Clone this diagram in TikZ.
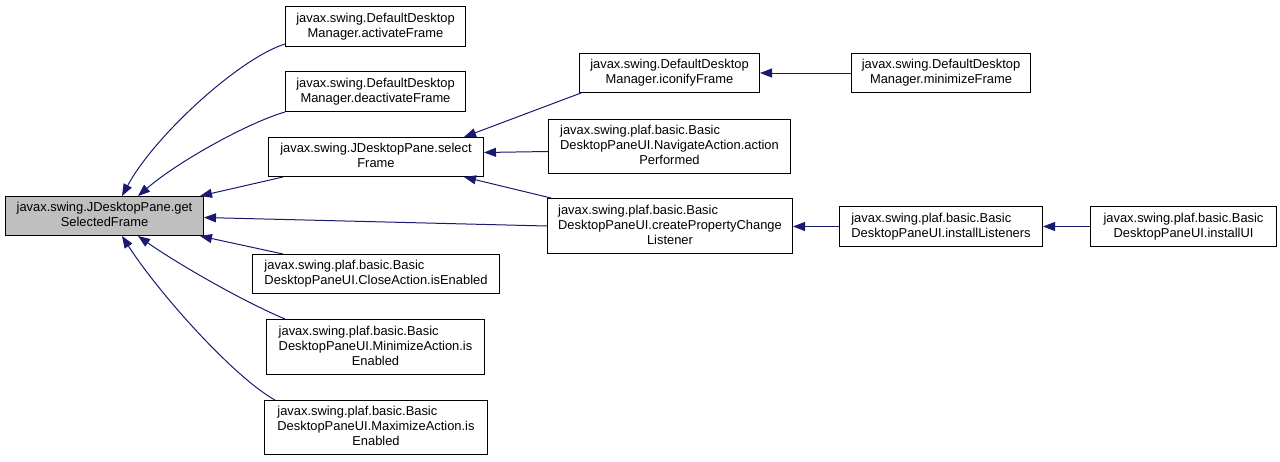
\documentclass[tikz,border=0pt]{standalone}
\usepackage{fontspec}
\setmainfont{Liberation Sans}
\usetikzlibrary{arrows.meta}
\definecolor{edgeblue}{HTML}{191970}
\definecolor{maingray}{HTML}{BFBFBF}
\newcommand{\lbl}[1]{\begin{tabular}{@{}l@{}}#1\end{tabular}}
\newcommand{\cl}[1]{\multicolumn{1}{@{}c@{}}{#1}}
\tikzset{
  box/.style={draw=black, line width=1pt, fill=white, inner sep=0pt, anchor=north west,
    font=\fontsize{12.9}{15}\selectfont, align=center},
  edge/.style={draw=edgeblue, line width=1pt, -{Triangle[length=12pt,width=9pt]}}
}
\begin{document}
\begin{tikzpicture}[x=1pt,y=-1pt]
\useasboundingbox (0,0) rectangle (1280,461);
% nodes
\node[box, fill=maingray, minimum width=198pt, minimum height=39pt] (main) at (5,196)
  {\lbl{\cl{javax.swing.JDesktopPane.get}\\\cl{SelectedFrame}}};
\node[box, minimum width=180pt, minimum height=40pt] (activate) at (285,6)
  {\lbl{\cl{javax.swing.DefaultDesktop}\\\cl{Manager.activateFrame}}};
\node[box, minimum width=180pt, minimum height=40pt] (deactivate) at (285,71)
  {\lbl{\cl{javax.swing.DefaultDesktop}\\\cl{Manager.deactivateFrame}}};
\node[box, minimum width=215pt, minimum height=39pt] (select) at (268,137)
  {\lbl{\cl{javax.swing.JDesktopPane.select}\\\cl{Frame}}};
\node[box, minimum width=247pt, minimum height=39pt] (close) at (252,254)
  {\lbl{javax.swing.plaf.basic.Basic\\DesktopPaneUI.CloseAction.isEnabled}};
\node[box, minimum width=218pt, minimum height=55pt] (minim) at (266,319)
  {\lbl{javax.swing.plaf.basic.Basic\\DesktopPaneUI.MinimizeAction.is\\\cl{Enabled}}};
\node[box, minimum width=223pt, minimum height=54pt] (maxim) at (264,400)
  {\lbl{javax.swing.plaf.basic.Basic\\DesktopPaneUI.MaximizeAction.is\\\cl{Enabled}}};
\node[box, minimum width=180pt, minimum height=39pt] (iconify) at (579,53)
  {\lbl{\cl{javax.swing.DefaultDesktop}\\\cl{Manager.iconifyFrame}}};
\node[box, minimum width=179pt, minimum height=39pt] (minframe) at (851,53)
  {\lbl{\cl{javax.swing.DefaultDesktop}\\\cl{Manager.minimizeFrame}}};
\node[box, minimum width=242pt, minimum height=54pt] (navigate) at (548,119)
  {\lbl{javax.swing.plaf.basic.Basic\\DesktopPaneUI.NavigateAction.action\\\cl{Performed}}};
\node[box, minimum width=245pt, minimum height=55pt] (createpcl) at (547,198)
  {\lbl{javax.swing.plaf.basic.Basic\\DesktopPaneUI.createPropertyChange\\\cl{Listener}}};
\node[box, minimum width=203pt, minimum height=40pt] (listeners) at (839,206)
  {\lbl{javax.swing.plaf.basic.Basic\\DesktopPaneUI.installListeners}};
\node[box, minimum width=186pt, minimum height=40pt] (installui) at (1090,206)
  {\lbl{\cl{javax.swing.plaf.basic.Basic}\\\cl{DesktopPaneUI.installUI}}};
% edges
\draw[edge] ([yshift=3pt]activate.south west) .. controls (240,58) and (155,135) .. ([xshift=117pt]main.north west);
\draw[edge] (deactivate.south west) .. controls (250,122) and (180,160) .. ([xshift=133pt]main.north west);
\draw[edge] ([xshift=15pt]select.south west) -- ([xshift=-4pt]main.north east);
\draw[edge] (createpcl.west) -- ([yshift=-1.5pt]main.east);
\draw[edge] ([xshift=31pt]close.north west) -- ([xshift=-4pt]main.south east);
\draw[edge] ([xshift=19pt]minim.north west) .. controls (240,300) and (175,262) .. ([xshift=133pt]main.south west);
\draw[edge] ([xshift=11pt]maxim.north west) .. controls (235,378) and (160,295) .. ([xshift=117pt]main.south west);
\draw[edge] ([xshift=2pt]iconify.south west) -- ([xshift=-20pt]select.north east);
\draw[edge] ([yshift=-5pt]navigate.west) -- ([yshift=4.5pt]select.east);
\draw[edge] ([xshift=4pt]createpcl.north west) -- ([xshift=-20pt]select.south east);
\draw[edge] (minframe.west) -- (iconify.east);
\draw[edge] (listeners.west) -- (listeners.west -| createpcl.east);
\draw[edge] (installui.west) -- (listeners.east);
\end{tikzpicture}
\end{document}
